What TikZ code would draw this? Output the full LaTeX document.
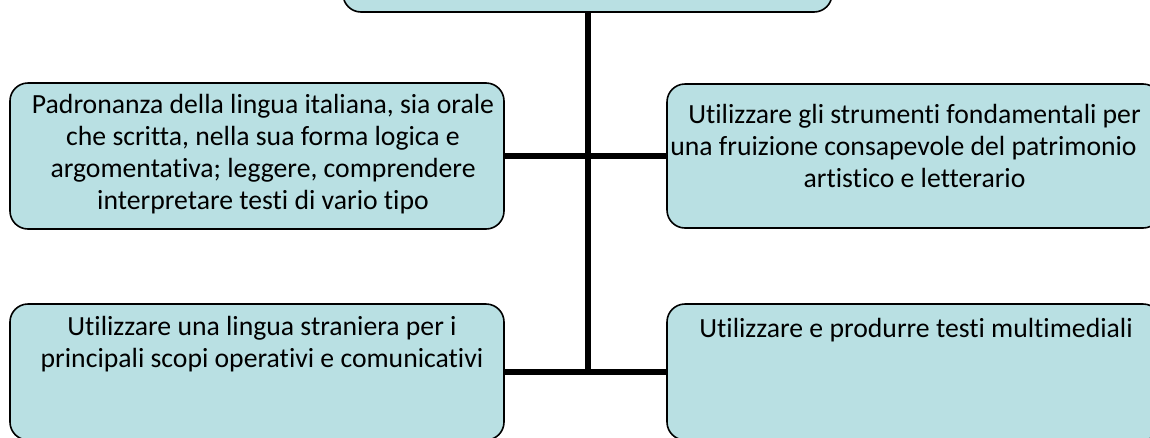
\documentclass[tikz,border=0pt]{standalone}
\usepackage{fontspec}
\setmainfont{Carlito}[Ligatures=CommonOff]
\definecolor{boxfill}{RGB}{185,224,227}
\begin{document}
\begin{tikzpicture}[x=1pt,y=-1pt,
  box/.style={draw=black, line width=1.6pt, fill=boxfill, rounded corners=18pt, inner sep=0pt},
  conn/.style={line width=6pt, draw=black},
  txt/.style={align=center, font=\fontsize{27.7}{32}\selectfont, inner sep=0pt, anchor=north}]
\useasboundingbox (0,0) rectangle (1150,437);
\clip (0,0) rectangle (1150,437);
% boxes
\node[box, minimum width=489pt, minimum height=72pt] (top) at (587.5,-24) {};
\node[box, minimum width=494pt, minimum height=146pt] (l1) at (257,156) {};
\node[box, minimum width=494pt, minimum height=144pt] (r1) at (914,156) {};
\node[box, minimum width=494pt, minimum height=136pt] (l2) at (257,372) {};
\node[box, minimum width=494pt, minimum height=136pt] (r2) at (914,372) {};
% connectors
\coordinate (j2) at (587.5,372);
\draw[conn] (top.south) -- (j2);
\draw[conn] (l1.east) -- (r1.west);
\draw[conn] (l2.east) -- (r2.west);
% texts
\node[txt] (t1) at (263,93.6) {Padronanza della lingua italiana, sia orale\\che scritta, nella sua forma logica e\\argomentativa; leggere, comprendere\\interpretare testi di vario tipo};
\node[txt] (t2) at (914.5,103.6) {Utilizzare gli strumenti fondamentali per\\\hspace*{-22pt}una fruizione consapevole del patrimonio\\artistico e letterario};
\node[txt] (t3) at (262,315.6) {Utilizzare una lingua straniera per i\\principali scopi operativi e comunicativi};
\node[txt] (t4) at (916,317.6) {Utilizzare e produrre testi multimediali};
\end{tikzpicture}
\end{document}
